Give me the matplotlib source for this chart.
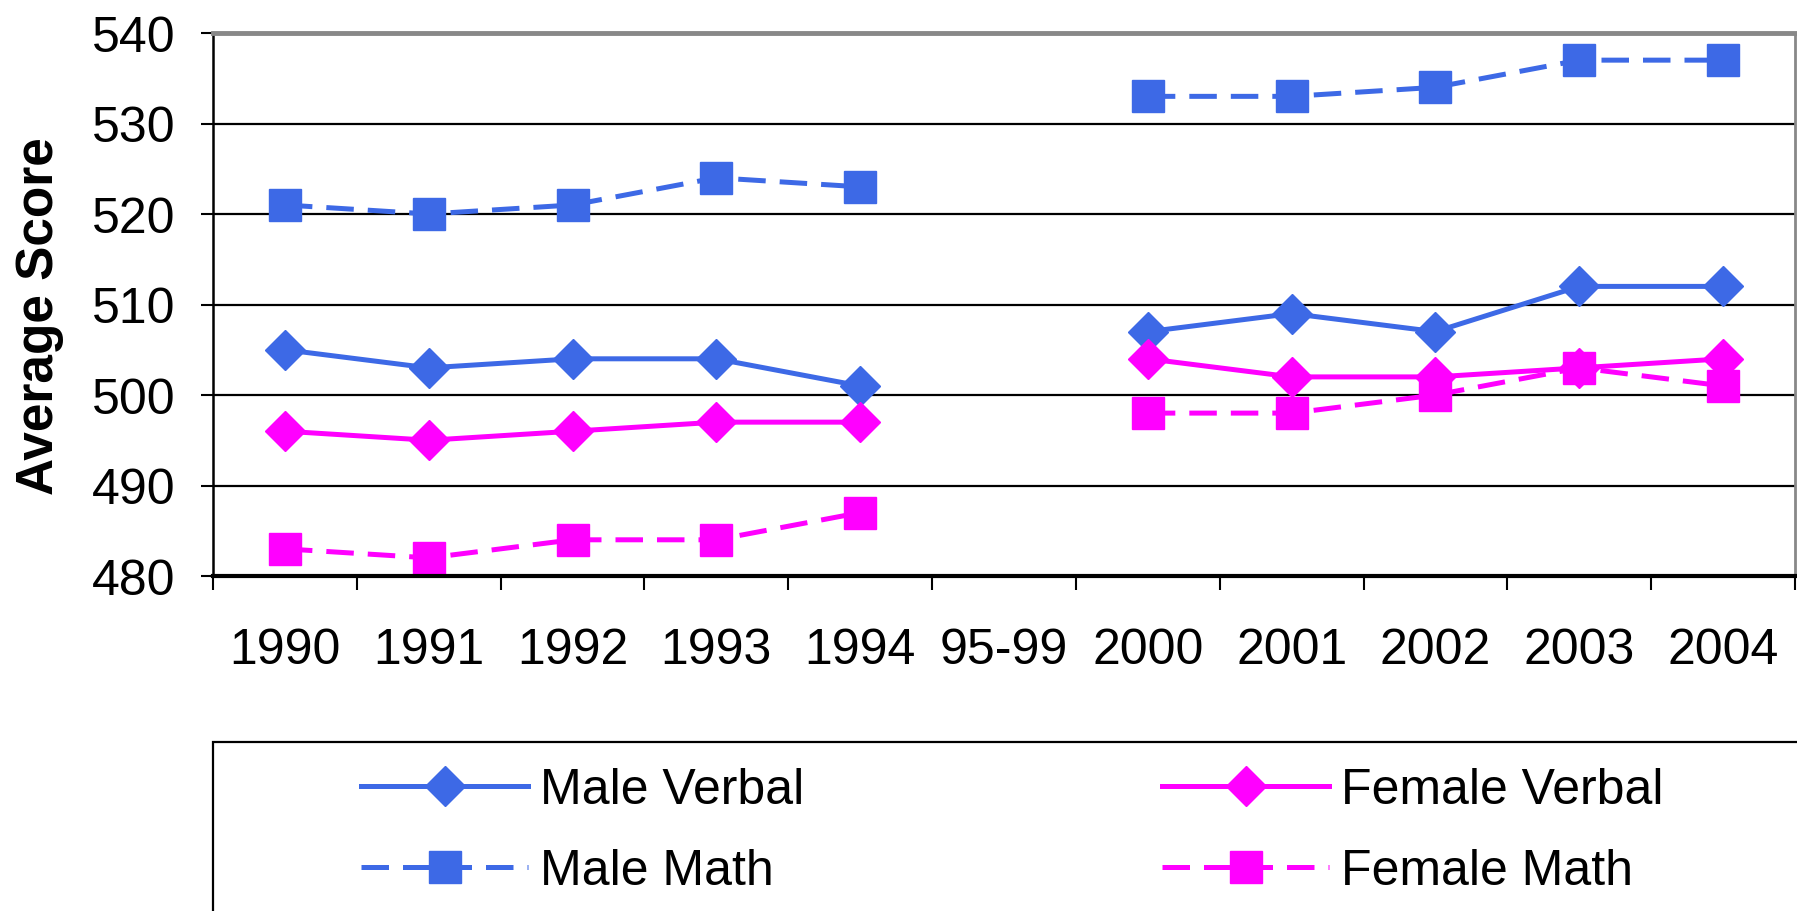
import numpy as np
import matplotlib
matplotlib.use("Agg")
import matplotlib.pyplot as plt
from matplotlib.patches import Rectangle

# SAT average scores by year (no data for 1995-1999)
years = ["1990", "1991", "1992", "1993", "1994", "95-99",
         "2000", "2001", "2002", "2003", "2004"]
male_verbal = [505, 503, 504, 504, 501, np.nan, 507, 509, 507, 512, 512]
female_verbal = [496, 495, 496, 497, 497, np.nan, 504, 502, 502, 503, 504]
male_math = [521, 520, 521, 524, 523, np.nan, 533, 533, 534, 537, 537]
female_math = [483, 482, 484, 484, 487, np.nan, 498, 498, 500, 503, 501]

BLUE = "#3d69e6"
MAGENTA = "#ff00ff"

plt.rcParams["font.family"] = ["Liberation Sans", "DejaVu Sans"]

W, H = 1797, 912
fig = plt.figure(figsize=(W / 100, H / 100), dpi=100)
ax = fig.add_axes([213 / W, 1 - 577 / H, (1795 - 213) / W, (577 - 34) / H])

x = np.arange(len(years))
LW = 3.6
dash = (5.5, 2.8)
l_mv, = ax.plot(x, male_verbal, color=BLUE, lw=LW, marker="D", ms=20,
                label="Male Verbal")
l_fv, = ax.plot(x, female_verbal, color=MAGENTA, lw=LW, marker="D", ms=20,
                label="Female Verbal")
l_mm, = ax.plot(x, male_math, color=BLUE, lw=LW, ls=(0, dash), marker="s",
                ms=23.5, label="Male Math")
l_fm, = ax.plot(x, female_math, color=MAGENTA, lw=LW, ls=(0, dash), marker="s",
                ms=23.5, label="Female Math")

ax.set_xlim(-0.5, len(years) - 0.5)
ax.set_ylim(480, 540)

# category boundaries carry the tick marks, centres carry the labels
ax.set_xticks(np.arange(-0.5, len(years), 1.0))
ax.set_xticklabels([])
ax.set_xticks(x, minor=True)
ax.set_xticklabels(years, minor=True)
ax.tick_params(axis="x", which="major", direction="out", length=10, width=1.5,
               color="black")
ax.tick_params(axis="x", which="minor", length=0, pad=36.5, labelsize=36)

ax.set_yticks(np.arange(480, 541, 10))
ax.tick_params(axis="y", direction="out", length=9, width=1.5, pad=18,
               labelsize=36)

ax.yaxis.grid(True, color="black", lw=1.6)
ax.set_axisbelow(True)

ax.spines["top"].set_color("#888888")
ax.spines["top"].set_linewidth(3.5)
ax.spines["right"].set_color("#888888")
ax.spines["right"].set_linewidth(2)
ax.spines["left"].set_color("black")
ax.spines["left"].set_linewidth(1.8)
ax.spines["bottom"].set_color("black")
ax.spines["bottom"].set_linewidth(3)

ax.set_ylabel("Average Score", fontsize=37, fontweight="bold")
ax.yaxis.set_label_coords(-0.094, 0.481)

# legend box below the plot
fig.patches.append(Rectangle((213 / W, -0.2), 1.0, 0.2 + (1 - 743 / H),
                             transform=fig.transFigure, fill=False,
                             edgecolor="black", lw=1.6))

leg_kw = dict(frameon=False, fontsize=36, handlelength=3.34, handletextpad=0.24,
              labelspacing=0.71, borderpad=0, borderaxespad=0, loc="upper left")
fig.legend(handles=[l_mv, l_mm], bbox_to_anchor=(361 / W, 1 - 768 / H), **leg_kw)
fig.legend(handles=[l_fv, l_fm], bbox_to_anchor=(1162 / W, 1 - 768 / H), **leg_kw)

fig.savefig("out.png", dpi=100)
